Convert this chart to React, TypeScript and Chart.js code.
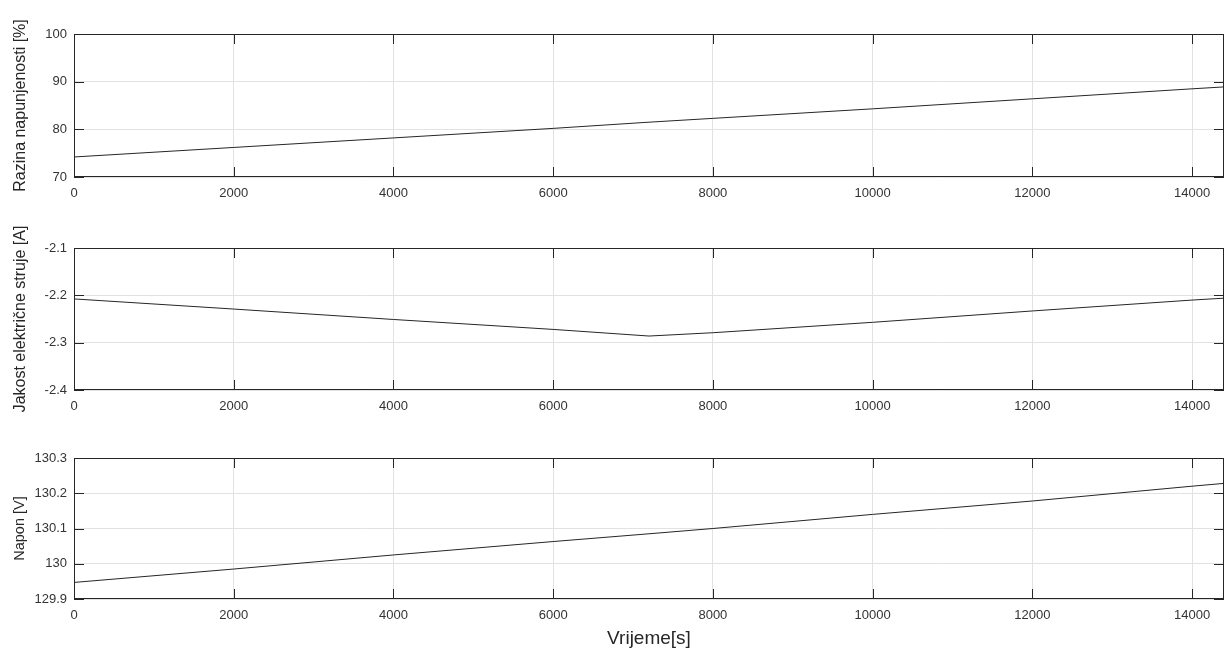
import React, { useEffect, useRef } from "react";
import { Chart, registerables } from "chart.js";

Chart.register(...registerables);

// ---- data ----
const timeS = [0, 2000, 4000, 6000, 7200, 8000, 10000, 12000, 14000, 14400];
const chargeLevel = [74.2, 76.2, 78.2, 80.2, 81.5, 82.3, 84.3, 86.4, 88.5, 88.9];
const current = [-2.2076, -2.229, -2.251, -2.272, -2.286, -2.279, -2.257, -2.233, -2.21, -2.206];
const voltage = [129.947, 129.985, 130.025, 130.063, 130.085, 130.1, 130.14, 130.178, 130.22, 130.228];

const xTitle = "Vrijeme[s]";
const yTitles = ["Razina napunjenosti [%]", "Jakost električne struje [A]", "Napon [V]"];

const xTicks = [0, 2000, 4000, 6000, 8000, 10000, 12000, 14000];
const xRange = [0, 14400];
const yTicks1 = [70, 80, 90, 100];
const yTicks2 = [-2.4, -2.3, -2.2, -2.1];
const yTicks3 = [129.9, 130, 130.1, 130.2, 130.3];

const FONT = "'Liberation Sans', Arial, Helvetica, sans-serif";
Chart.defaults.font.family = FONT;

const boxPlugin = {
  id: "matlabBox",
  afterDraw(chart: any) {
    const { ctx, chartArea: a, scales } = chart;
    const xs = scales.x;
    const ys = scales.y;
    const tl = 10;
    ctx.save();
    ctx.strokeStyle = "#262626";
    ctx.lineWidth = 1;
    ctx.beginPath();
    xs.ticks.forEach((t: any) => {
      const px = Math.round(xs.getPixelForValue(t.value)) + 0.5;
      ctx.moveTo(px, a.bottom);
      ctx.lineTo(px, a.bottom - tl);
      ctx.moveTo(px, a.top);
      ctx.lineTo(px, a.top + tl);
    });
    ys.ticks.forEach((t: any) => {
      const py = Math.round(ys.getPixelForValue(t.value)) + 0.5;
      ctx.moveTo(a.left, py);
      ctx.lineTo(a.left + tl, py);
      ctx.moveTo(a.right, py);
      ctx.lineTo(a.right - tl, py);
    });
    ctx.stroke();
    ctx.strokeRect(
      Math.round(a.left) + 0.5,
      Math.round(a.top) + 0.5,
      Math.round(a.right - a.left) - 1,
      Math.round(a.bottom - a.top) - 1
    );
    ctx.restore();
  },
};

type SubProps = {
  top: number;
  height: number;
  areaTop: number;
  areaBottom: number;
  values: number[];
  yTitle: string;
  yTitleSize: number;
  yTickValues: number[];
  showXTitle: boolean;
};

function fmt(v: number) {
  return String(Number(Number(v).toFixed(4)));
}

function SubPlot(p: SubProps) {
  const ref = useRef<HTMLCanvasElement | null>(null);
  useEffect(() => {
    if (!ref.current) return;
    const pts = timeS.map((t, i) => ({ x: t, y: p.values[i] }));
    const yt = p.yTickValues;
    const chart = new Chart(ref.current, {
      type: "line",
      data: {
        datasets: [
          {
            data: pts,
            borderColor: "#262626",
            borderWidth: 1,
            pointRadius: 0,
            tension: 0,
            fill: false,
          },
        ],
      },
      options: {
        animation: false,
        responsive: false,
        maintainAspectRatio: false,
        layout: { padding: { top: p.areaTop, right: 4, left: 0, bottom: 0 } },
        plugins: { legend: { display: false }, tooltip: { enabled: false } },
        scales: {
          x: {
            type: "linear",
            min: xRange[0],
            max: xRange[1],
            afterBuildTicks: (s: any) => {
              s.ticks = xTicks.map((v) => ({ value: v }));
            },
            afterFit: (s: any) => {
              s.height = p.height - p.areaBottom;
            },
            ticks: {
              maxRotation: 0,
              autoSkip: false,
              padding: 9,
              color: "#333333",
              font: { size: 13, family: FONT },
              callback: (v: any) => fmt(v),
            },
            grid: { color: "#e2e2e2", drawTicks: false, lineWidth: 1 },
            border: { display: false },
            title: {
              display: p.showXTitle,
              text: xTitle,
              color: "#262626",
              font: { size: 19, family: FONT },
              padding: { top: 0, bottom: 5 },
            },
          },
          y: {
            type: "linear",
            min: yt[0],
            max: yt[yt.length - 1],
            afterBuildTicks: (s: any) => {
              s.ticks = yt.map((v) => ({ value: v }));
            },
            afterFit: (s: any) => {
              s.width = 74;
            },
            ticks: {
              autoSkip: false,
              padding: 7,
              color: "#333333",
              font: { size: 13, family: FONT },
              callback: (v: any) => fmt(v),
            },
            grid: { color: "#e2e2e2", drawTicks: false, lineWidth: 1 },
            border: { display: false },
            title: {
              display: true,
              text: p.yTitle,
              color: "#262626",
              font: { size: p.yTitleSize, family: FONT },
              padding: { top: 11, bottom: 0 },
            },
          },
        },
      },
      plugins: [boxPlugin],
    } as any);
    return () => chart.destroy();
  }, []);
  return (
    <canvas
      ref={ref}
      width={1228}
      height={p.height}
      style={{ position: "absolute", left: 0, top: p.top, width: 1228, height: p.height, display: "block" }}
    />
  );
}

export default function App() {
  return (
    <div style={{ position: "fixed", left: 0, top: 0, width: 1228, height: 655, background: "#fff", overflow: "hidden" }}>
      <SubPlot top={0} height={220} areaTop={34} areaBottom={177} values={chargeLevel} yTitle={yTitles[0]} yTitleSize={16} yTickValues={yTicks1} showXTitle={false} />
      <SubPlot top={220} height={220} areaTop={28} areaBottom={170} values={current} yTitle={yTitles[1]} yTitleSize={16} yTickValues={yTicks2} showXTitle={false} />
      <SubPlot top={440} height={215} areaTop={18} areaBottom={159} values={voltage} yTitle={yTitles[2]} yTitleSize={14.5} yTickValues={yTicks3} showXTitle={true} />
    </div>
  );
}
